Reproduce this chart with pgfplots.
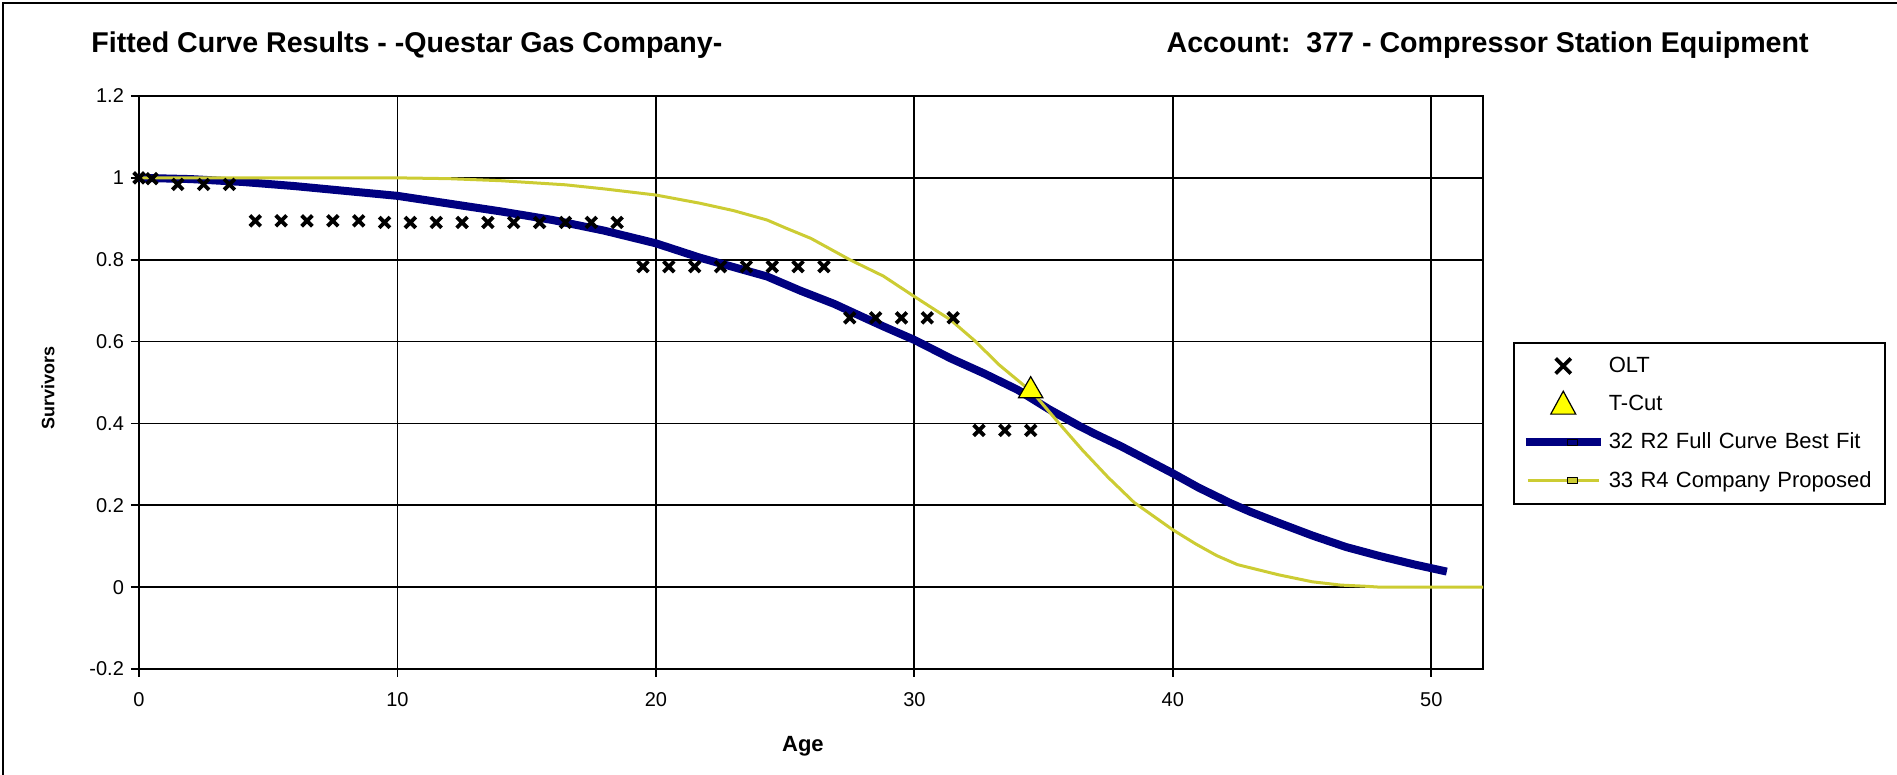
\documentclass[border=0pt]{standalone}
\usepackage{pgfplots}
\pgfplotsset{compat=1.18}
\usepackage{fontspec}
\setmainfont{Liberation Sans}
\definecolor{fitblue}{RGB}{0,0,128}
\definecolor{propyel}{RGB}{204,204,51}
\definecolor{tcut}{RGB}{255,255,0}

% observed life table points
\pgfplotstableread{
x y
0 1.0
0.5 0.998
1.5 0.984
2.5 0.984
3.5 0.984
4.5 0.895
5.5 0.895
6.5 0.895
7.5 0.895
8.5 0.895
9.5 0.891
10.5 0.891
11.5 0.891
12.5 0.891
13.5 0.891
14.5 0.891
15.5 0.891
16.5 0.891
17.5 0.891
18.5 0.891
19.5 0.783
20.5 0.783
21.5 0.783
22.5 0.783
23.5 0.783
24.5 0.783
25.5 0.783
26.5 0.783
27.5 0.658
28.5 0.658
29.5 0.658
30.5 0.658
31.5 0.658
32.5 0.383
33.5 0.383
34.5 0.383
}\olt

\pgfplotstableread{
x y
0 1.0
2 0.997
4 0.99
6 0.98
8 0.968
10 0.956
12 0.937
14 0.918
16 0.897
18 0.871
20 0.84
21.7 0.805
23 0.782
24.3 0.759
25.6 0.724
26.9 0.692
28 0.66
28.8 0.637
30 0.604
31.4 0.559
32.7 0.522
34 0.482
35.2 0.435
36.4 0.393
37 0.374
38 0.344
39 0.311
40 0.278
41 0.243
42.2 0.206
43 0.184
44.1 0.157
45.4 0.126
46.7 0.098
48 0.076
49.3 0.056
50.6 0.038
}\rtwo

\pgfplotstableread{
x y
0 1.0
10 1.0
12 0.998
14 0.993
16.5 0.983
18 0.973
20 0.958
21.7 0.938
23 0.92
24.3 0.897
25 0.878
26 0.852
27.5 0.80
28.8 0.76
30 0.71
31.4 0.653
32.3 0.604
33.3 0.542
34.6 0.474
35.6 0.40
36.5 0.335
37.5 0.268
38.5 0.207
40 0.14
40.9 0.105
41.7 0.077
42.5 0.055
44.1 0.03
45.4 0.013
46.5 0.005
47.5 0.002
48 0
52 0
}\rfour

\begin{document}
\begin{tikzpicture}
\path[use as bounding box] (0pt,0pt) rectangle (948.5pt,387.5pt);
\draw[line width=1.2pt] (1.5pt,0pt) -- (1.5pt,386pt) -- (948.5pt,386pt);
\node[anchor=base west,inner sep=0pt,font=\bfseries\fontsize{14.3}{16}\selectfont] at (45.5pt,361pt)
  {Fitted Curve Results - -Questar Gas Company-};
\node[anchor=base east,inner sep=0pt,font=\bfseries\fontsize{14.3}{16}\selectfont] at (904.5pt,361pt)
  {Account:\ \ 377 - Compressor Station Equipment};
\begin{axis}[
    at={(69.5pt,53pt)}, anchor=south west,
    scale only axis, width=672pt, height=286.5pt,
    xmin=0, xmax=52, ymin=-0.2, ymax=1.2,
    xtick={0,10,20,30,40,50},
    ytick={-0.2,0,0.2,0.4,0.6,0.8,1,1.2},
    yticklabel style={/pgf/number format/.cd,fixed,precision=1},
    xticklabel style={yshift=-4pt},
    /pgf/number format/assume math mode=true,
    ticklabel style={font=\fontsize{10}{12}\selectfont},
    grid=major,
    grid style={black,line width=0.9pt},
    axis line style={line width=0.9pt},
    tick style={black,line width=0.9pt},
    tick align=outside, tick pos=left,
    major tick length=4pt,
    xlabel={\bfseries Age},
    ylabel={\bfseries Survivors},
    xlabel style={at={(axis description cs:0.494,-0.134)},anchor=center,font=\fontsize{11}{13}\selectfont},
    ylabel style={at={(axis description cs:-0.0677,0.49)},anchor=center,font=\fontsize{9}{11}\selectfont},
    legend style={at={(1.0223,0.5707)},anchor=north west,draw=black,line width=0.8pt,
      font=\fontsize{11}{13}\selectfont,row sep=5.7pt,inner xsep=4pt,inner ysep=5pt,
      text width=132pt,align=left},
    legend cell align=left,
  ]
  \addplot[only marks,mark=x,mark size=3.8pt,mark options={black,line width=1.9pt},
    legend image code/.code={\path[draw=none] (0pt,0pt) -- (37.5pt,0pt);
      \draw[black,line width=1.9pt] (14.95pt,-3.8pt) -- (22.55pt,3.8pt) (14.95pt,3.8pt) -- (22.55pt,-3.8pt);}]
    table {\olt};
  \addlegendentry{OLT}
  \addplot[only marks,mark=triangle*,mark size=7pt,mark options={draw=black,fill=tcut,line width=0.6pt},
    legend image code/.code={\path[draw=none] (0pt,0pt) -- (37.5pt,0pt);
      \draw[black,fill=tcut,line width=0.6pt] (12.5pt,-5pt) -- (25pt,-5pt) -- (18.75pt,6.5pt) -- cycle;}]
    coordinates {(34.5,0.48)};
  \addlegendentry{T-Cut}
  \addplot[fitblue,line width=4pt,line join=round,
    legend image code/.code={\draw[fitblue,line width=4pt] (0pt,0pt) -- (37.5pt,0pt);
      \draw[black,fill=fitblue,line width=0.5pt] (21pt,-1.5pt) rectangle (26pt,1.5pt);}]
    table {\rtwo};
  \addlegendentry{32 R2 Full Curve Best Fit}
  \addplot[propyel,line width=1.5pt,line join=round,
    legend image code/.code={\draw[propyel,line width=1.5pt] (1pt,0pt) -- (36.5pt,0pt);
      \draw[black,fill=propyel,line width=0.5pt] (21pt,-1.5pt) rectangle (26pt,1.5pt);}]
    table {\rfour};
  \addlegendentry{33 R4 Company Proposed}
\end{axis}
\end{tikzpicture}
\end{document}
